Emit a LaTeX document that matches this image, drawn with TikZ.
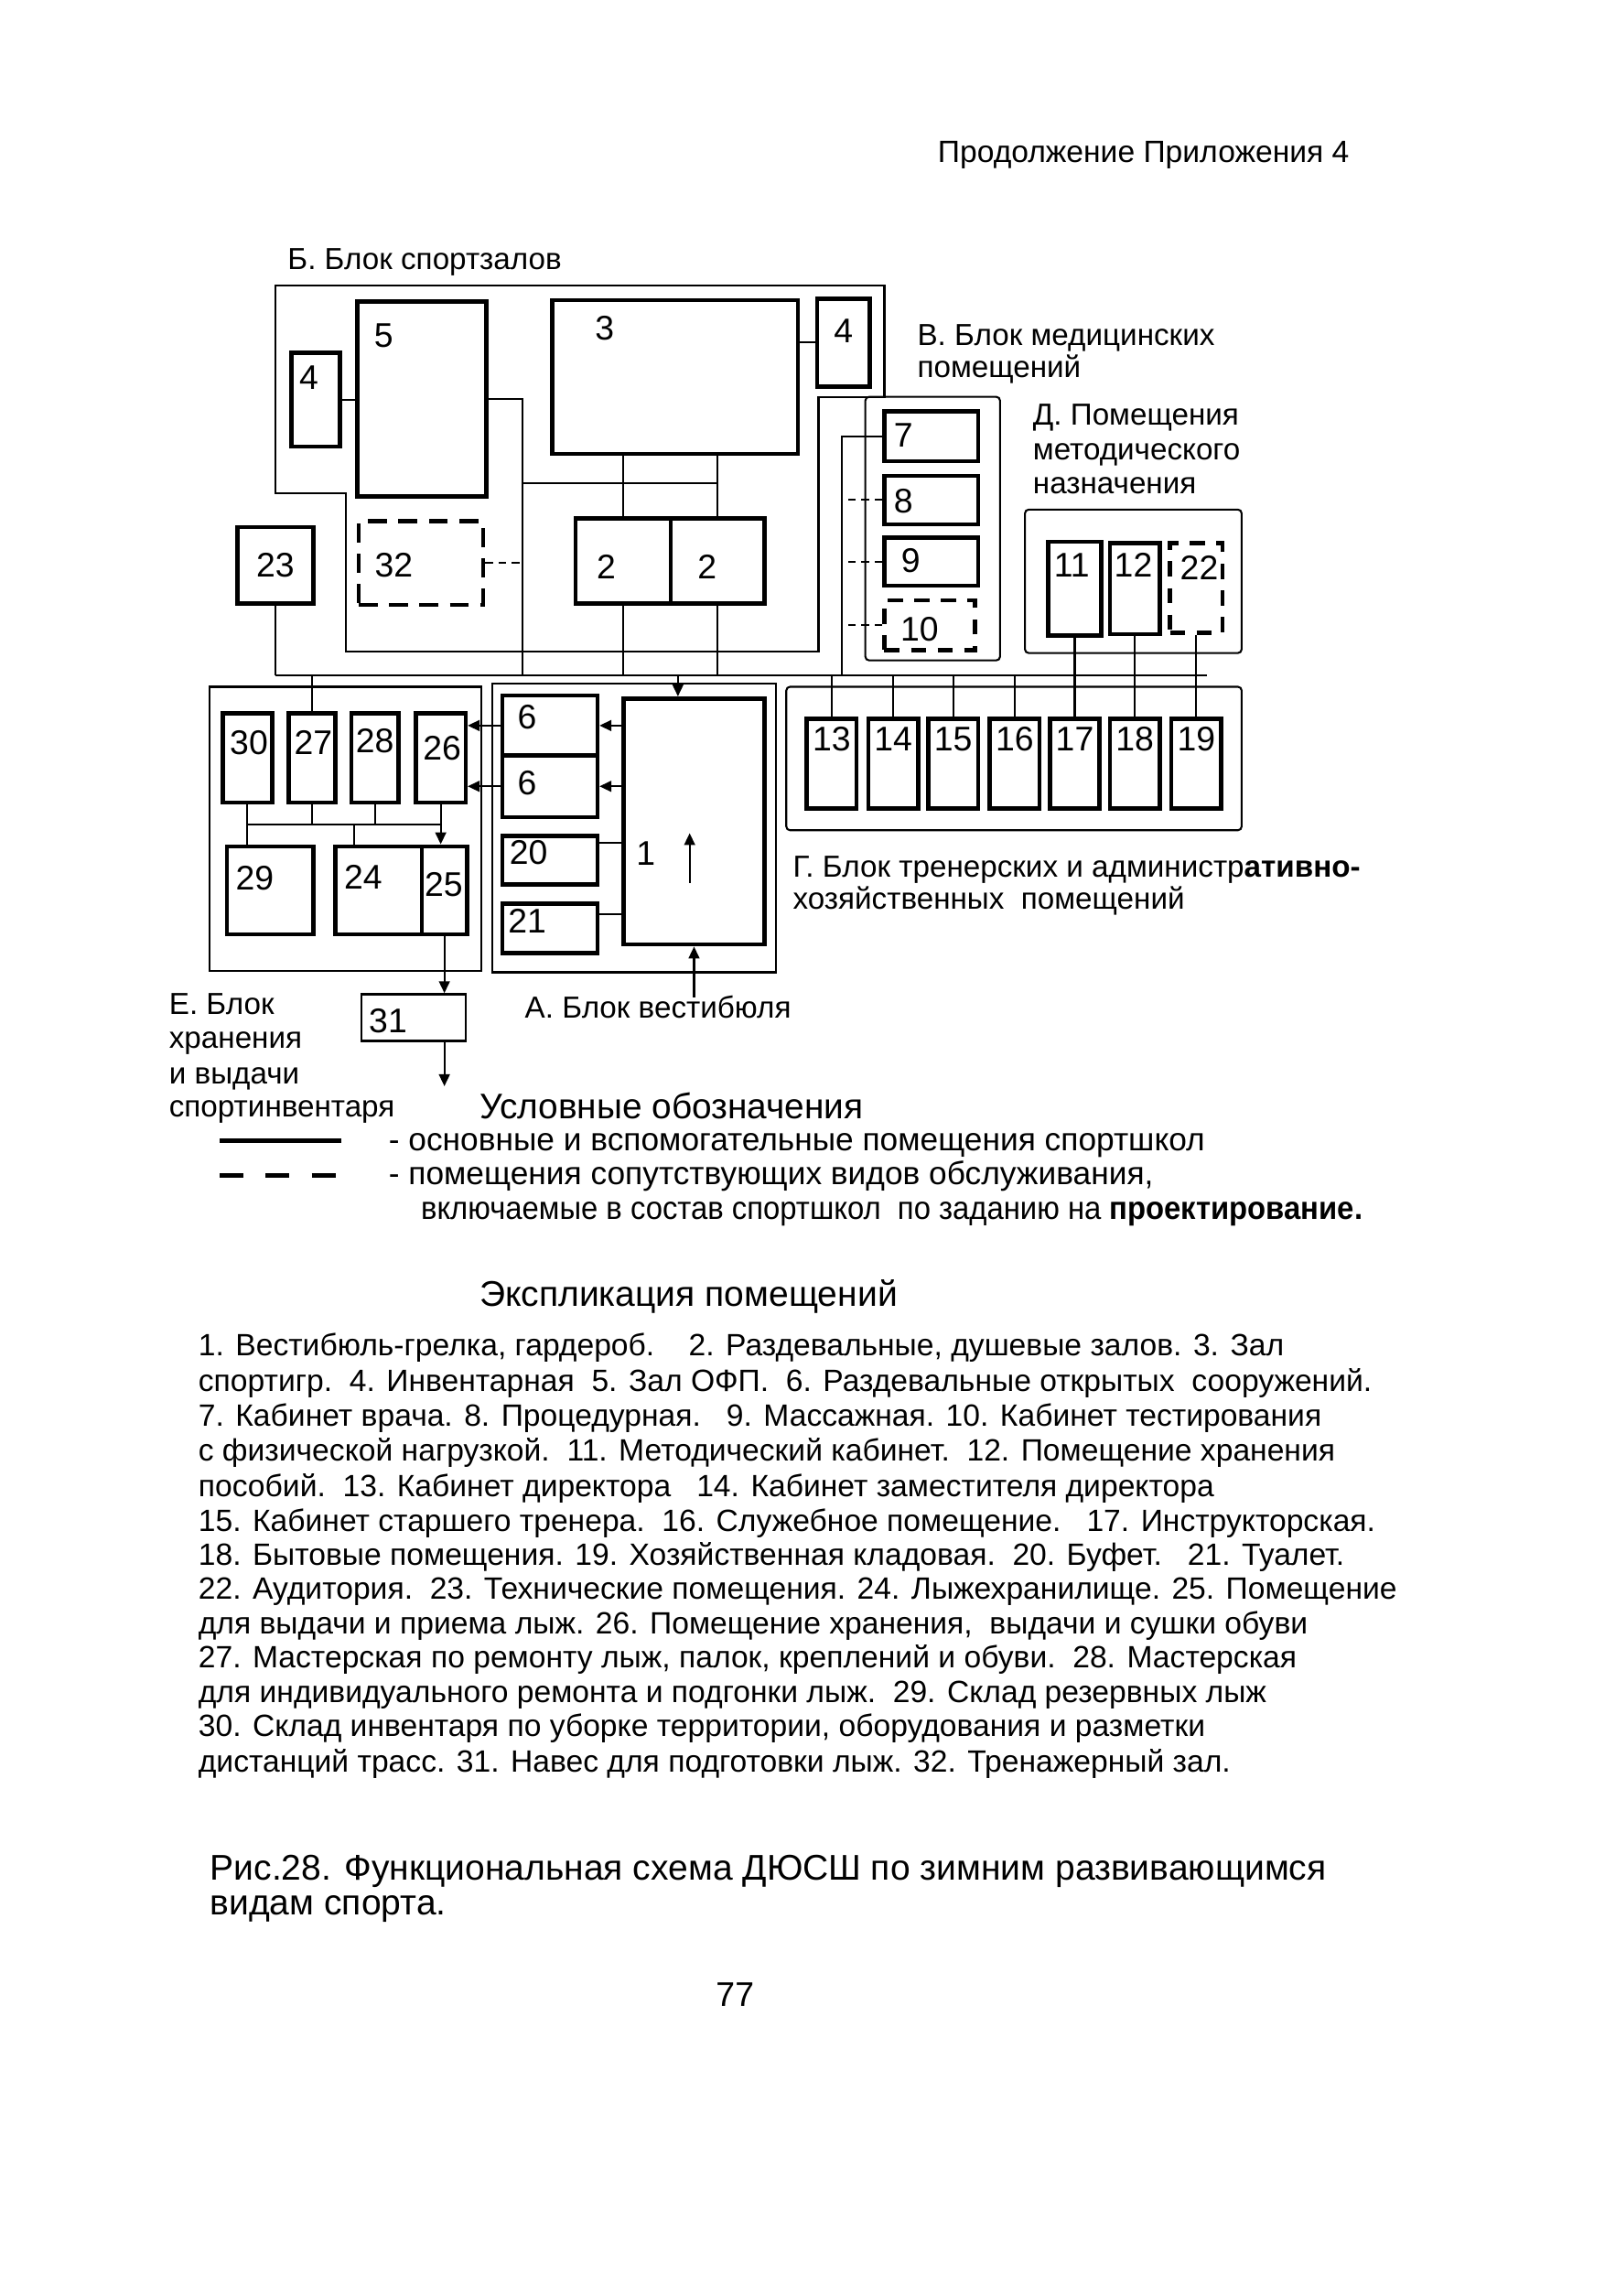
\documentclass[tikz,border=0pt]{standalone}
\usepackage{fontspec}
\setmainfont{Liberation Sans}
\usetikzlibrary{arrows.meta,calc,fit}

\begin{document}
\begin{tikzpicture}[x=0.1354mm,y=-0.1354mm,
  room/.style={draw,line width=1.1pt,inner sep=0pt},
  extra/.style={room,dash pattern=on 5pt off 3pt},
  block/.style={draw,line width=0.5pt},
  link/.style={line width=0.5pt},
  stub/.style={link,dash pattern=on 2pt off 1.5pt},
  arr/.style={link,-{Triangle[length=1.1mm,width=1mm]}},
  num/.style={font=\fontsize{9}{10}\selectfont,inner sep=0pt},
  lbl/.style={font=\fontsize{8}{9}\selectfont,inner sep=0pt,anchor=base west},
  legtext/.style={font=\fontsize{8.5}{9}\selectfont,inner sep=0pt,anchor=base west},
  expl/.style={font=\fontsize{8.1}{9}\selectfont,inner sep=0pt,anchor=base west},
  head/.style={font=\fontsize{9.35}{10}\selectfont,inner sep=0pt,anchor=base west}
]
\useasboundingbox (0,0) rectangle (1096,1568);

% Header
\node[lbl,anchor=base east,font=\fontsize{8.1}{9}\selectfont] (top) at (922,111) {Продолжение Приложения 4};

% Block outlines
\draw[block] (188,195) -- (604,195) -- (604,271) -- (559,271) -- (559,445) -- (236,445) -- (236,337) -- (188,337) -- cycle;
\draw[block,rounded corners=1pt] (591,271) rectangle (683,451);
\draw[block,rounded corners=1pt] (700,348) rectangle (848,446);
\draw[block] (143,469) rectangle (329,663);
\draw[block] (336,467) rectangle (530,664);
\draw[block,rounded corners=1pt] (537,469) rectangle (848,567);

% Block labels
\node[lbl] (labB) at (196,184) {Б. Блок спортзалов};
\node[lbl] (labV1) at (626,236) {В. Блок медицинских};
\node[lbl] (labV2) at (626,258) {помещений};
\node[lbl] (labD1) at (705,290) {Д. Помещения};
\node[lbl] (labD2) at (705,314) {методического};
\node[lbl] (labD3) at (705,337) {назначения};
\node[lbl] (labG1) at (541,599) {Г. Блок тренерских и администр\textbf{ативно-}};
\node[lbl] (labG2) at (541,621) {хозяйственных\ \ помещений};
\node[lbl] (labE1) at (115,693) {Е. Блок};
\node[lbl] (labE2) at (115,716) {хранения};
\node[lbl] (labE3) at (115,740) {и выдачи};
\node[lbl] (labE4) at (115,763) {спортинвентаря};
\node[lbl] (labA) at (358,695) {А. Блок вестибюля};

% Б. sports halls
\node[room,fit={(199,241) (232,305)}] (r4a) {};
\node[room,fit={(244,206) (332,339)}] (r5) {};
\node[room,fit={(377,205) (545,310)}] (r3) {};
\node[room,fit={(558,204) (594,264)}] (r4b) {};
\node[extra,fit={(245,356) (330,413)}] (r32) {};
\node[room,fit={(393,354) (458,412)}] (r2a) {};
\node[room,fit={(458,354) (522,412)}] (r2b) {};
\node[room,fit={(162,360) (214,412)}] (r23) {};
\node[num] (n4a) at (211,258) {4};
\node[num] (n5) at (262,229) {5};
\node[num] (n3) at (413,224) {3};
\node[num] (n4b) at (576,226) {4};
\node[num] (n32) at (269,386) {32};
\node[num] (n2a) at (414,387) {2};
\node[num] (n2b) at (483,387) {2};
\node[num] (n23) at (188,386) {23};

% В. medical rooms
\node[room,fit={(604,281) (668,315)}] (r7) {};
\node[room,fit={(604,325) (668,358)}] (r8) {};
\node[room,fit={(604,367) (668,400)}] (r9) {};
\node[extra,dash pattern=on 4pt off 3pt,fit={(604,410) (666,444)}] (r10) {};
\node[num] (n7) at (617,297) {7};
\node[num] (n8) at (617,342) {8};
\node[num] (n9) at (622,383) {9};
\node[num] (n10) at (628,430) {10};

% Д. methodical rooms
\node[room,fit={(716,370) (752,434)}] (r11) {};
\node[room,fit={(758,371) (792,433)}] (r12) {};
\node[extra,dash pattern=on 4pt off 3pt,fit={(799,371) (835,432)}] (r22) {};
\node[num] (n11) at (732,386) {11};
\node[num] (n12) at (774,386) {12};
\node[num] (n22) at (819,388) {22};

% Г. coaches and admin rooms
\foreach \n/\x in {13/551,14/593,15/634,16/676,17/717,18/758,19/800}{
  \node[room,fit={(\x,491) (\x+34,552)}] (r\n) {};
  \node[num,anchor=north] (n\n) at ([yshift=-2.5pt]r\n.north) {\n};
}

% Е. equipment storage
\node[room,fit={(152,487) (186,548)}] (r30) {};
\node[room,fit={(197,487) (229,548)}] (r27) {};
\node[room,fit={(240,487) (272,548)}] (r28) {};
\node[room,fit={(284,487) (318,548)}] (r26) {};
\node[room,fit={(155,578) (214,638)}] (r29) {};
\node[room,fit={(229,578) (288,638)}] (r24) {};
\node[room,fit={(288,578) (319,638)}] (r25) {};
\node[draw,line width=0.6pt,inner sep=0pt,fit={(247,679) (318,711)}] (r31) {};
\node[num] (n30) at (170,507) {30};
\node[num] (n27) at (214,507) {27};
\node[num] (n28) at (256,506) {28};
\node[num] (n26) at (302,511) {26};
\node[num] (n29) at (174,600) {29};
\node[num] (n24) at (248,599) {24};
\node[num] (n25) at (303,604) {25};
\node[num] (n31) at (265,697) {31};

% А. entrance hall
\node[room,fit={(343,475) (408,516)}] (r6a) {};
\node[room,fit={(343,516) (408,558)}] (r6b) {};
\node[room,fit={(343,571) (408,604)}] (r20) {};
\node[room,fit={(343,617) (408,651)}] (r21) {};
\node[room,fit={(426,477) (522,645)}] (r1) {};
\node[num] (n6a) at (360,490) {6};
\node[num] (n6b) at (360,535) {6};
\node[num] (n20) at (361,582) {20};
\node[num] (n21) at (360,629) {21};
\node[num] (n1) at (441,583) {1};

% Junctions
\coordinate (bus) at (188,461);
\coordinate (busR) at (824,461);
\coordinate (j5) at (357,461);
\coordinate (h3) at (357,330);
\coordinate (j7) at (575,461);
\coordinate (j1) at (463,461);
\coordinate (eh) at (169,563);
\coordinate (e24) at (242,563);
\coordinate (ent) at (474,681);
\coordinate (a1) at (471,603);
\coordinate (a2) at (471,569);
\coordinate (s20) at ($(r20.north east)+(0,6)$);
\coordinate (s21) at ($(r21.north east)+(0,9)$);
\coordinate (out) at ($(r25.south |- r31.south)+(0,30)$);

% Connectors, upper part
\draw[link] (bus) -- (busR);
\draw[link] (r4a.east) -- (r4a.east -| r5.west);
\draw[link] (r4b.west) -- (r4b.west -| r3.east);
\draw[link] (r5.east) -| (j5);
\draw[stub] (r32.east) -- (r32.east -| j5);
\draw[link] (h3) -- (h3 -| r2b.north);
\draw[link] (r3.south -| r2a.north) -- (r2a.north);
\draw[link] (r3.south -| r2b.north) -- (r2b.north);
\draw[link] (r2a.south) -- (r2a.south |- bus);
\draw[link] (r2b.south) -- (r2b.south |- bus);
\draw[link] (r23.south) -- (r23.south |- bus);
\draw[link] (r7.west) -| (j7);
\draw[stub] (r8.west) -- (r8.west -| j7);
\draw[stub] (r9.west) -- (r9.west -| j7);
\draw[stub] (r10.west) -- (r10.west -| j7);
\draw[link] (r11.south) -- (r17.north);
\draw[link] (r12.south) -- (r18.north);
\draw[link] (r22.south) -- (r19.north);
\foreach \n in {13,14,15,16}
  \draw[link] (r\n.north |- bus) -- (r\n.north);
\draw[link] (r27.north |- bus) -- (r27.north);
\draw[arr] (j1) -- (j1 |- r1.north);

% Connectors, storage block
\draw[link] (r30.south) -- (r30.south |- r29.north);
\draw[link] (r27.south) -- (r27.south |- eh);
\draw[link] (r28.south) -- (r28.south |- eh);
\draw[link] (eh) -- (eh -| r26.south);
\draw[link] (e24) -- (e24 |- r24.north);
\draw[arr] (r26.south) -- (r26.south |- r25.north);
\draw[arr] (r25.south) -- (r25.south |- r31.north);
\draw[arr] (r25.south |- r31.south) -- (out);

% Connectors, entrance block
\draw[arr] (r6a.west) -- (r6a.west -| r26.east);
\draw[arr] (r6b.west) -- (r6b.west -| r26.east);
\draw[arr] (r1.west |- r6a.east) -- (r6a.east);
\draw[arr] (r1.west |- r6b.east) -- (r6b.east);
\draw[link] (s20) -- (s20 -| r1.west);
\draw[link] (s21) -- (s21 -| r1.west);
\draw[arr] (ent) -- (r1.south);
\draw[arr] (a1) -- (a2);

% Legend
\node[head] (legT) at (327,764) {Условные обозначения};
\coordinate (ls1) at (150,779);
\coordinate (ls2) at (233,779);
\coordinate (ld1) at (150,803);
\coordinate (ld2) at (230,803);
\draw[line width=1.2pt] (ls1) -- (ls2);
\draw[line width=1.2pt,dash pattern=on 6.3pt off 5.8pt] (ld1) -- (ld2);
\node[legtext] (leg1) at (265,786) {- основные и вспомогательные помещения спортшкол};
\node[legtext] (leg2) at (265,809) {- помещения сопутствующих видов обслуживания,};
\node[legtext] (leg3) at (287,833) {\scalebox{0.93}[1]{включаемые в состав спортшкол\ \ по заданию на \textbf{проектирование.}}};

% Explication
\node[head,font=\fontsize{9.4}{10}\selectfont] (expT) at (327,892) {Экспликация помещений};
\foreach \y/\t [count=\i] in {
  921/{1. Вестибюль-грелка, гардероб.\ \ \ \ 2. Раздевальные, душевые залов. 3. Зал},
  945/{спортигр.\ \ 4. Инвентарная\ \ 5. Зал ОФП.\ \ 6. Раздевальные открытых\ \ сооружений.},
  969/{7. Кабинет врача. 8. Процедурная.\ \ \ 9. Массажная. 10. Кабинет тестирования},
  993/{с физической нагрузкой.\ \ 11. Методический кабинет.\ \ 12. Помещение хранения},
  1017/{пособий.\ \ 13. Кабинет директора\ \ \ 14. Кабинет заместителя директора},
  1041/{15. Кабинет старшего тренера.\ \ 16. Служебное помещение.\ \ \ 17. Инструкторская.},
  1064/{18. Бытовые помещения. 19. Хозяйственная кладовая.\ \ 20. Буфет.\ \ \ 21. Туалет.},
  1087/{22. Аудитория.\ \ 23. Технические помещения. 24. Лыжехранилище. 25. Помещение},
  1111/{для выдачи и приема лыж. 26. Помещение хранения,\ \ выдачи и сушки обуви},
  1134/{27. Мастерская по ремонту лыж, палок, креплений и обуви.\ \ 28. Мастерская},
  1158/{для индивидуального ремонта и подгонки лыж.\ \ 29. Склад резервных лыж},
  1181/{30. Склад инвентаря по уборке территории, оборудования и разметки},
  1205/{дистанций трасс. 31. Навес для подготовки лыж. 32. Тренажерный зал.}}
  \node[expl] (ex\i) at (135,\y+5) {\t};

% Caption
\node[head,font=\fontsize{9.4}{10}\selectfont] (cap1) at (143,1284) {Рис.28. Функциональная схема ДЮСШ по зимним развивающимся};
\node[head,font=\fontsize{9.4}{10}\selectfont] (cap2) at (143,1308) {видам спорта.};
\node[num] (page) at (502,1362) {77};

\end{tikzpicture}
\end{document}
